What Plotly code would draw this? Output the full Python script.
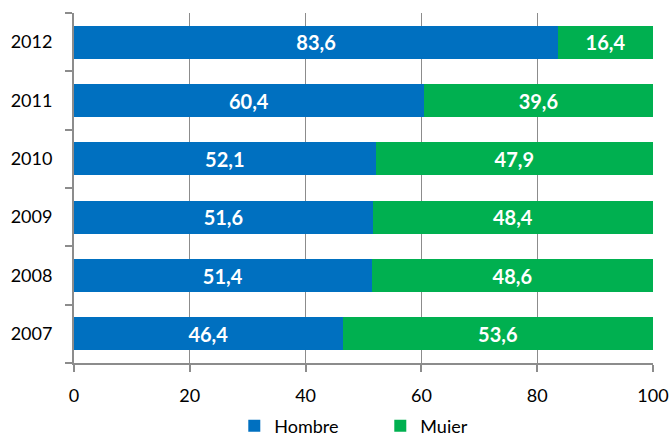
import plotly.graph_objects as go

years = ["2007", "2008", "2009", "2010", "2011", "2012"]
hombre = [46.4, 51.4, 51.6, 52.1, 60.4, 83.6]
mujer = [53.6, 48.6, 48.4, 47.9, 39.6, 16.4]
x_ticks = [0, 20, 40, 60, 80, 100]

def fmt(vals):
    return [f"{v:.1f}".replace(".", ",") for v in vals]

font = "Lato"
fig = go.Figure()
fig.add_trace(go.Bar(y=years, x=hombre, orientation="h", name="Hombre",
                     marker=dict(color="#0070C0", line=dict(width=0)),
                     text=fmt(hombre), textposition="inside", insidetextanchor="middle",
                     textfont=dict(color="white", size=20, family=font, weight="bold")))
fig.add_trace(go.Bar(y=years, x=mujer, orientation="h", name="Muier",
                     marker=dict(color="#00B050", line=dict(width=0)),
                     text=fmt(mujer), textposition="inside", insidetextanchor="middle",
                     textfont=dict(color="white", size=20, family=font, weight="bold")))

fig.update_layout(
    barmode="stack", bargap=0.43,
    width=672, height=436,
    margin=dict(l=74, r=19, t=13, b=73, autoexpand=False),
    plot_bgcolor="white", paper_bgcolor="white",
    font=dict(family=font, size=18, color="black"),
    uniformtext=dict(minsize=10, mode="show"),
    showlegend=True,
    legend=dict(orientation="h", x=0.529, xanchor="center", y=-0.18, yanchor="middle",
                font=dict(size=18), traceorder="normal", entrywidth=101,
                itemwidth=30),
    xaxis=dict(range=[0, 100], tickvals=x_ticks, showgrid=True, gridcolor="#8c8c8c",
               gridwidth=1, zeroline=False, showline=True, linecolor="#8c8c8c",
               linewidth=2, ticks="outside", ticklen=7, tickcolor="#8c8c8c",
               tickwidth=2, automargin=False, fixedrange=True,
               ticklabelstandoff=8, ticklabeloverflow="allow"),
    yaxis=dict(categoryorder="array", categoryarray=years, showline=True,
               linecolor="#8c8c8c", linewidth=2, ticks="outside", ticklen=7,
               tickcolor="#8c8c8c", tickwidth=2, fixedrange=True,
               tickson="boundaries", showgrid=False, ticklabelstandoff=16,
               automargin=False),
)
fig.write_html("out.html", config={"displayModeBar": False},
               post_script="document.body.style.margin='0';document.body.style.overflow='hidden';")
